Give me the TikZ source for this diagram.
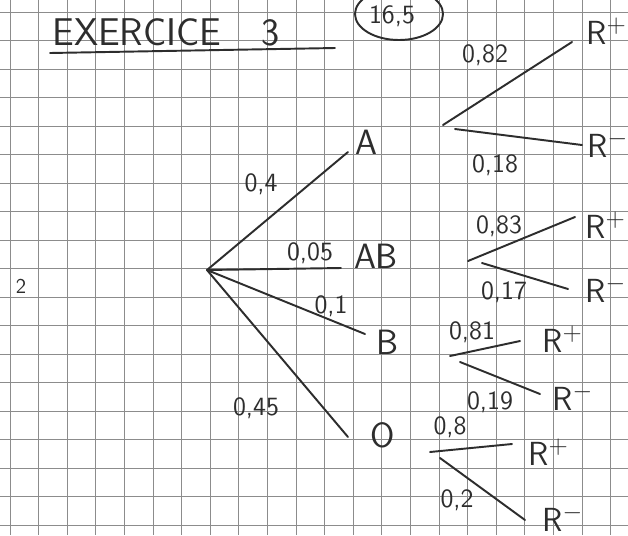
\documentclass[tikz,border=0pt]{standalone}
\usepackage{tikz}
\usetikzlibrary{positioning}
\definecolor{ink}{RGB}{45,45,45}
\definecolor{gridgray}{RGB}{140,140,140}
\tikzset{
  pen/.style={draw=ink, line width=1.1pt, line cap=round},
  squares/.style={draw=gridgray, line width=0.5pt},
  prob/.style={text=ink, inner sep=0pt, font=\sffamily\fontsize{15}{17}\selectfont},
  grp/.style={text=ink, inner sep=0pt, font=\sffamily\fontsize{20}{22}\selectfont},
  rh/.style={text=ink, inner sep=0pt, anchor=base west, font=\sffamily\fontsize{19}{21}\selectfont},
}

\begin{document}
\begin{tikzpicture}[x=0.02cm, y=-0.02cm]
  \useasboundingbox (0,0) rectangle (628,535);
  \fill[white] (0,0) rectangle (628,535);

  % Squared paper
  \foreach \i in {0,...,21}
    \draw[squares] ({10+28.6*\i},0) -- ({10+28.6*\i},535);
  \foreach \j in {0,...,18}
    \draw[squares] (0,{12+28.5*\j}) -- (628,{12+28.5*\j});

  % Title and mark
  \node[text=ink, inner sep=0pt, anchor=base west, font=\sffamily\fontsize{22}{24}\selectfont] (title) at (52,45) {EXERCICE\hspace{0.8cm}3};
  \coordinate (ul1) at (50,53);
  \coordinate (ul2) at (335,48);
  \draw[pen] (ul1) -- (ul2);
  \node[prob] (score) at (392,16) {16,5};
  \draw[pen] (399,14) ellipse [x radius=44, y radius=26];
  \node[prob, font=\sffamily\fontsize{12}{14}\selectfont] (qnum) at (21,286) {2};

  % Blood groups
  \coordinate (root) at (207,270);
  \node[grp] (A) at (366,142) {A};
  \node[grp] (AB) at (376,256) {AB};
  \node[grp] (B) at (387,342) {B};
  \node[grp] (O) at (383,435) {O};
  \coordinate (eA) at (348,152);
  \coordinate (eAB) at (341,268);
  \coordinate (eB) at (365,334);
  \coordinate (eO) at (348,437);
  \draw[pen] (root) -- (eA);
  \draw[pen] (root) -- (eAB);
  \draw[pen] (root) -- (eB);
  \draw[pen] (root) -- (eO);
  \node[prob] (pA) at (261,184) {0,4};
  \node[prob] (pAB) at (310,253) {0,05};
  \node[prob] (pB) at (331,306) {0,1};
  \node[prob] (pO) at (256,408) {0,45};

  % Rhesus after A
  \coordinate (fA) at (443,125);
  \coordinate (sA) at (455,129);
  \coordinate (uA) at (572,42);
  \coordinate (dA) at (582,145);
  \draw[pen] (fA) -- (uA);
  \draw[pen] (sA) -- (dA);
  \node[rh] (Ap) at (586,44) {R$^{+}$};
  \node[rh] (Am) at (587,157) {R$^{-}$};
  \node[prob] (pAp) at (485,55) {0,82};
  \node[prob] (pAm) at (495,165) {0,18};

  % Rhesus after AB
  \coordinate (fAB) at (468,261);
  \coordinate (sAB) at (482,263);
  \coordinate (uAB) at (575,217);
  \coordinate (dAB) at (568,289);
  \draw[pen] (fAB) -- (uAB);
  \draw[pen] (sAB) -- (dAB);
  \node[rh] (ABp) at (585,238) {R$^{+}$};
  \node[rh] (ABm) at (585,302) {R$^{-}$};
  \node[prob] (pABp) at (499,226) {0,83};
  \node[prob] (pABm) at (504,292) {0,17};

  % Rhesus after B
  \coordinate (fB) at (450,356);
  \coordinate (sB) at (460,362);
  \coordinate (uB) at (520,341);
  \coordinate (dB) at (540,394);
  \draw[pen] (fB) -- (uB);
  \draw[pen] (sB) -- (dB);
  \node[rh] (Bp) at (542,352) {R$^{+}$};
  \node[rh] (Bm) at (552,410) {R$^{-}$};
  \node[prob] (pBp) at (472,332) {0,81};
  \node[prob] (pBm) at (490,402) {0,19};

  % Rhesus after O
  \coordinate (fO) at (430,452);
  \coordinate (sO) at (440,458);
  \coordinate (uO) at (512,444);
  \coordinate (dO) at (525,520);
  \draw[pen] (fO) -- (uO);
  \draw[pen] (sO) -- (dO);
  \node[rh] (Op) at (528,465) {R$^{+}$};
  \node[rh] (Om) at (542,531) {R$^{-}$};
  \node[prob] (pOp) at (450,427) {0,8};
  \node[prob] (pOm) at (457,500) {0,2};
\end{tikzpicture}
\end{document}
